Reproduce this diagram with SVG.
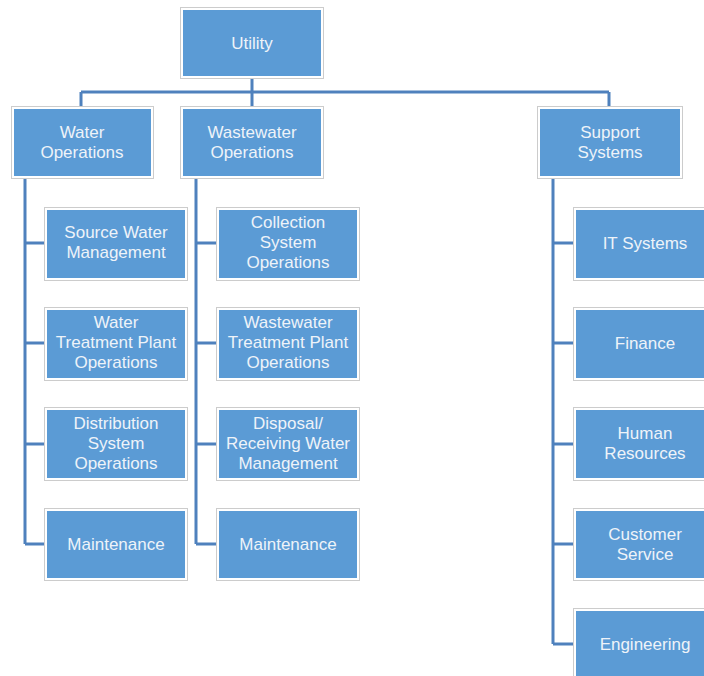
<svg xmlns="http://www.w3.org/2000/svg" width="704" height="676" viewBox="0 0 704 676">
<style>
.frame{fill:#ffffff;stroke:#cccccc;stroke-width:1}
.box{fill:#5b9bd5}
.lbl{font-family:"Liberation Sans","Open Sans",sans-serif;font-size:17px;fill:#eef3f9;text-anchor:middle}
.conn{fill:none;stroke:#4f81bd;stroke-width:3}
</style>
<rect width="704" height="676" fill="#ffffff"/>
<g id="connectors" class="conn">
<path d="M252,79V92M81,92H609M81,92V107M252,92V107M609,92V107"/>
<path d="M25,179V544M25,243H45M25,343H45M25,444H45M25,544H45"/>
<path d="M196,179V544M196,243H217M196,343H217M196,444H217M196,544H217"/>
<path d="M553,179V644M553,243H574M553,343H574M553,444H574M553,544H574M553,644H574"/>
</g>
<g id="utility"><rect class="frame" x="180.5" y="7.5" width="143" height="71"/><rect class="box" x="183" y="10" width="138" height="66"/><text class="lbl" x="252" y="49">Utility</text></g>
<g id="water-ops"><rect class="frame" x="11.5" y="106.5" width="142" height="72"/><rect class="box" x="14" y="109" width="137" height="67"/><text class="lbl" x="82" y="138">Water</text><text class="lbl" x="82" y="158">Operations</text></g>
<g id="wastewater-ops"><rect class="frame" x="180.5" y="106.5" width="143" height="72"/><rect class="box" x="183" y="109" width="138" height="67"/><text class="lbl" x="252" y="138">Wastewater</text><text class="lbl" x="252" y="158">Operations</text></g>
<g id="support-systems"><rect class="frame" x="537.5" y="106.5" width="145" height="72"/><rect class="box" x="540" y="109" width="140" height="67"/><text class="lbl" x="610" y="138">Support</text><text class="lbl" x="610" y="158">Systems</text></g>

<g id="source-water"><rect class="frame" x="44.5" y="207.5" width="143" height="73"/><rect class="box" x="47" y="210" width="138" height="68"/><text class="lbl" x="116" y="238">Source Water</text><text class="lbl" x="116" y="258">Management</text></g>
<g id="water-treatment"><rect class="frame" x="44.5" y="307.5" width="143" height="73"/><rect class="box" x="47" y="310" width="138" height="68"/><text class="lbl" x="116" y="328">Water</text><text class="lbl" x="116" y="348">Treatment Plant</text><text class="lbl" x="116" y="368">Operations</text></g>
<g id="distribution"><rect class="frame" x="44.5" y="407.5" width="143" height="73"/><rect class="box" x="47" y="410" width="138" height="68"/><text class="lbl" x="116" y="429">Distribution</text><text class="lbl" x="116" y="449">System</text><text class="lbl" x="116" y="469">Operations</text></g>
<g id="water-maintenance"><rect class="frame" x="44.5" y="508.5" width="143" height="72"/><rect class="box" x="47" y="511" width="138" height="67"/><text class="lbl" x="116" y="550">Maintenance</text></g>

<g id="collection"><rect class="frame" x="216.5" y="207.5" width="143" height="73"/><rect class="box" x="219" y="210" width="138" height="68"/><text class="lbl" x="288" y="228">Collection</text><text class="lbl" x="288" y="248">System</text><text class="lbl" x="288" y="268">Operations</text></g>
<g id="wastewater-treatment"><rect class="frame" x="216.5" y="307.5" width="143" height="73"/><rect class="box" x="219" y="310" width="138" height="68"/><text class="lbl" x="288" y="328">Wastewater</text><text class="lbl" x="288" y="348">Treatment Plant</text><text class="lbl" x="288" y="368">Operations</text></g>
<g id="disposal"><rect class="frame" x="216.5" y="407.5" width="143" height="73"/><rect class="box" x="219" y="410" width="138" height="68"/><text class="lbl" x="288" y="429">Disposal/</text><text class="lbl" x="288" y="449">Receiving Water</text><text class="lbl" x="288" y="469">Management</text></g>
<g id="wastewater-maintenance"><rect class="frame" x="216.5" y="508.5" width="143" height="72"/><rect class="box" x="219" y="511" width="138" height="67"/><text class="lbl" x="288" y="550">Maintenance</text></g>

<g id="it-systems"><rect class="frame" x="573.5" y="207.5" width="144" height="73"/><rect class="box" x="576" y="210" width="139" height="68"/><text class="lbl" x="645" y="249">IT Systems</text></g>
<g id="finance"><rect class="frame" x="573.5" y="307.5" width="144" height="73"/><rect class="box" x="576" y="310" width="139" height="68"/><text class="lbl" x="645" y="349">Finance</text></g>
<g id="human-resources"><rect class="frame" x="573.5" y="407.5" width="144" height="73"/><rect class="box" x="576" y="410" width="139" height="68"/><text class="lbl" x="645" y="439">Human</text><text class="lbl" x="645" y="459">Resources</text></g>
<g id="customer-service"><rect class="frame" x="573.5" y="508.5" width="144" height="72"/><rect class="box" x="576" y="511" width="139" height="67"/><text class="lbl" x="645" y="540">Customer</text><text class="lbl" x="645" y="560">Service</text></g>
<g id="engineering"><rect class="frame" x="573.5" y="608.5" width="144" height="73"/><rect class="box" x="576" y="611" width="139" height="68"/><text class="lbl" x="645" y="650">Engineering</text></g>
</svg>
